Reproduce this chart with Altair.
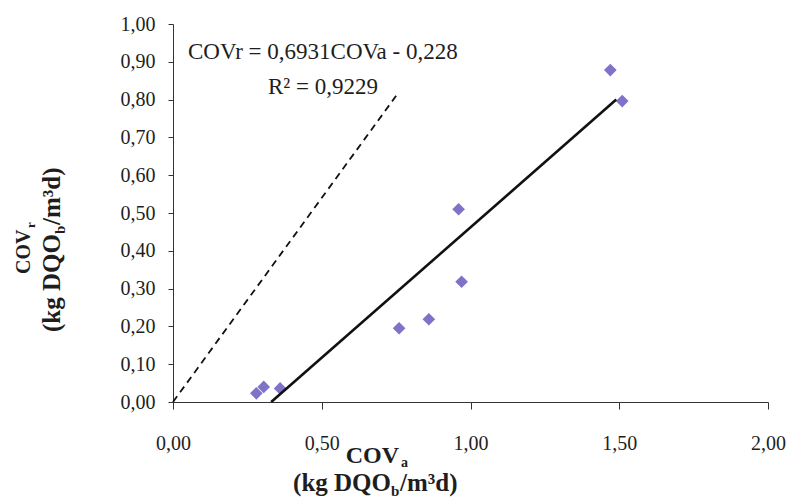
import altair as alt
import pandas as pd

# ---- data ----
cov_a = [0.28, 0.305, 0.36, 0.76, 0.86, 0.96, 0.97, 1.47, 1.51]
cov_r = [0.023, 0.040, 0.036, 0.195, 0.219, 0.510, 0.318, 0.878, 0.796]

fit_x = [0.33, 1.49]          # trend line COVr = 0,6931 COVa - 0,228
fit_y = [0.00, 0.80]

ref_x = [0.00, 0.75]          # dashed reference line
ref_y = [0.00, 0.81]

x_ticks = [0.0, 0.5, 1.0, 1.5, 2.0]
y_ticks = [0.0, 0.1, 0.2, 0.3, 0.4, 0.5, 0.6, 0.7, 0.8, 0.9, 1.0]

eq_text = "COVr = 0,6931COVa - 0,228"
r2_text = "R² = 0,9229"

FONT = "Liberation Serif"
INK = "#1e1e1e"
LEFT, TOP = 173, 24
W, H = 595, 378

pts = pd.DataFrame({"a": cov_a, "r": cov_r})
fit = pd.DataFrame({"a": fit_x, "r": fit_y})
ref = pd.DataFrame({"a": ref_x, "r": ref_y})

lab = "replace(format(datum.value, '.2f'), '.', ',')"
xs = alt.Scale(domain=[0, 2], nice=False, zero=False)
ys = alt.Scale(domain=[0, 1], nice=False, zero=False)

x_axis = alt.Axis(values=x_ticks, labelExpr=lab, title=None, grid=False,
                  tickSize=7, labelPadding=24, labelFont=FONT, labelFontSize=20,
                  labelColor=INK, domainColor="#333", tickColor="#333",
                  labelBaseline="top", labelFlush=False, labelOverlap=False)
y_axis = alt.Axis(values=y_ticks, labelExpr=lab, title=None, grid=False,
                  tickSize=5, labelPadding=13, labelFont=FONT, labelFontSize=20,
                  labelColor=INK, domainColor="#333", tickColor="#333",
                  labelFlush=False, labelOverlap=False)

points = alt.Chart(pts).mark_point(
    shape="diamond", filled=True, size=160, color="#7F72C9", opacity=1
).encode(
    x=alt.X("a:Q", scale=xs, axis=x_axis),
    y=alt.Y("r:Q", scale=ys, axis=y_axis),
)

fit_line = alt.Chart(fit).mark_line(color="#111", strokeWidth=2.6).encode(
    x=alt.X("a:Q", scale=xs, axis=x_axis), y=alt.Y("r:Q", scale=ys, axis=y_axis))

ref_line = alt.Chart(ref).mark_line(color="#111", strokeWidth=1.8,
                                    strokeDash=[7, 5]).encode(
    x=alt.X("a:Q", scale=xs, axis=x_axis), y=alt.Y("r:Q", scale=ys, axis=y_axis))


def txt(s, x, y, size, bold=False, align="left", angle=0, baseline="alphabetic"):
    kw = dict(font=FONT, fontSize=size, color=INK, align=align,
              baseline=baseline, fontWeight="bold" if bold else "normal")
    if angle:
        kw["angle"] = angle
    return alt.Chart(pd.DataFrame({"t": [s]})).mark_text(**kw).encode(
        x=alt.value(x - LEFT), y=alt.value(y - TOP), text="t:N")


pieces = [
    # annotation
    txt(eq_text, 188, 59, 23),
    txt(r2_text, 268, 94, 23),
    # x title
    txt("COV", 399, 463, 24, bold=True, align="right"),
    txt("a", 401, 467, 14, bold=True),
    txt("(kg DQO", 391, 491, 25, bold=True, align="right"),
    txt("b", 391, 496, 15, bold=True),
    txt("/m³d)", 400, 491, 25, bold=True),
    # y title (rotated)
    txt("COV", 30, 274, 20, bold=True, angle=270),
    txt("r", 35, 228, 13, bold=True, angle=270),
    txt("(kg DQO", 60, 332, 25, bold=True, angle=270),
    txt("b", 65, 234, 15, bold=True, angle=270),
    txt("/m³d)", 60, 225, 25, bold=True, angle=270),
]

chart = alt.layer(points, ref_line, fit_line, *pieces).properties(
    width=W, height=H,
    autosize=alt.AutoSizeParams(type="none"),
    padding={"left": LEFT, "top": TOP, "right": 790 - LEFT - W, "bottom": 500 - TOP - H},
    background="white",
).configure_view(stroke=None)

chart.save("out.html", embed_options={"renderer": "svg", "actions": False})
